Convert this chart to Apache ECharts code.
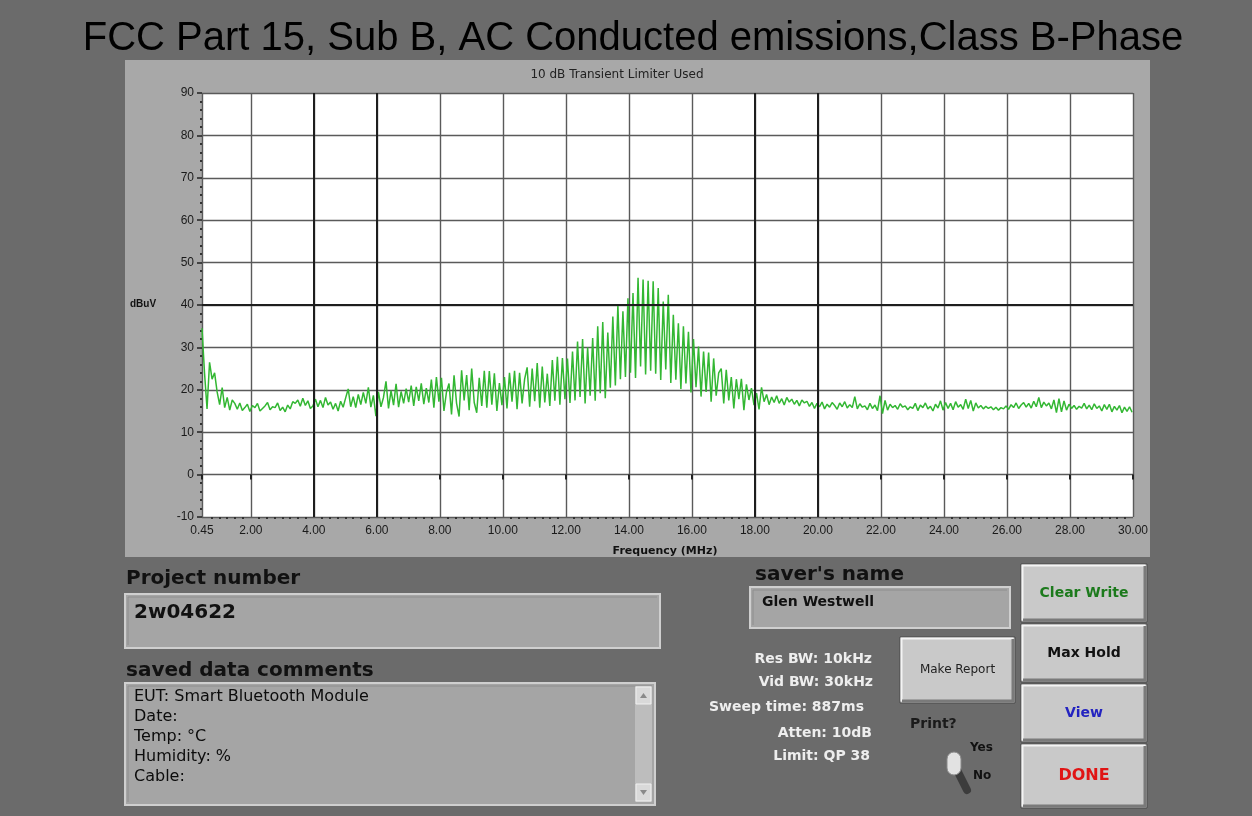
<!DOCTYPE html>
<html>
<head>
<meta charset="utf-8">
<title>FCC Part 15 AC Conducted emissions</title>
<script src="https://cdn.jsdelivr.net/npm/echarts@6/dist/echarts.min.js"></script>
<style>
  html, body { margin: 0; padding: 0; background: #6b6b6b; }
  #chart { width: 1252px; height: 816px; }
</style>
</head>
<body>
<div id="chart"></div>
<script>
// Sweep grid of the analyzer trace (MHz)
const sweepStartMHz = 0.45;
const sweepStepMHz = 0.08;

// Measured level, dBuV, 0.45 – 7.97 MHz
const levelLowBand = [
  34.5, 24.0, 15.5, 26.5, 22.5, 24.0, 19.5, 16.5, 20.5, 15.8,
  18.2, 15.2, 17.6, 16.8, 15.4, 16.9, 15.1, 15.8, 16.6, 14.9,
  16.3, 15.8, 16.8, 15.0, 15.6, 16.2, 17.0, 15.3, 16.0, 15.8,
  16.9, 15.1, 15.9, 14.8, 16.4, 15.5, 17.2, 16.8, 17.6, 16.1,
  18.0, 16.3, 17.4, 15.6, 16.2, 17.8, 16.0, 17.5, 15.8, 18.2,
  16.4, 17.1, 15.4, 16.8, 15.0, 17.3, 15.9, 18.1, 20.2, 16.0,
  18.4, 15.8, 18.9, 16.5, 19.4, 16.8, 20.6, 15.9, 18.7, 13.8,
  19.5, 16.0, 18.2, 22.0, 15.6, 19.8, 16.4, 21.4, 15.9, 19.6,
  16.8, 20.3, 17.1, 21.0, 16.2, 20.7, 17.4, 21.5, 16.6, 20.4,
  17.0, 22.4, 15.8, 23.0, 17.2
];

// Measured level, dBuV, 8.05 – 17.97 MHz (harmonic comb)
const levelMidBand = [
  22.8, 15.0, 19.5, 21.5, 14.2, 23.4, 16.8, 13.7, 24.6, 17.5,
  23.5, 15.2, 25.0, 17.0, 14.6, 22.8, 16.2, 24.5, 15.8, 24.4,
  16.5, 23.9, 15.0, 21.6, 16.4, 23.0, 15.6, 24.0, 17.2, 24.5,
  15.4, 24.0, 16.8, 22.5, 25.3, 16.0, 25.0, 17.3, 26.3, 15.8,
  25.5, 17.0, 23.8, 16.2, 27.0, 17.4, 27.8, 16.5, 27.5, 17.8,
  27.4, 16.9, 29.0, 17.5, 31.4, 18.3, 32.0, 16.8, 30.0, 18.6,
  32.2, 17.4, 35.0, 19.2, 36.0, 18.0, 33.5, 20.5, 37.3, 21.0,
  40.0, 22.5, 38.5, 23.0, 41.6, 24.0, 42.8, 22.8, 46.4, 25.5,
  46.0, 23.6, 45.7, 24.5, 45.6, 23.8, 44.0, 22.3, 40.8, 24.8,
  42.4, 21.6, 37.7, 22.4, 35.7, 20.2, 35.0, 21.5, 33.7, 19.4,
  32.0, 20.6, 30.2, 18.4, 29.0, 19.5, 28.8, 17.2, 27.4, 18.6,
  24.0, 25.0, 16.8, 24.7, 17.5, 23.0, 15.6, 22.5, 17.8, 22.6,
  15.2, 21.3, 17.6, 20.4, 16.4
];

// Measured level, dBuV, 18.05 – 29.97 MHz
const levelHighBand = [
  19.2, 15.4, 20.6, 17.2, 18.9, 16.5, 18.3, 17.0, 18.6, 16.8,
  17.9, 16.4, 18.2, 17.1, 17.8, 16.6, 17.5, 16.2, 17.6, 16.9,
  17.3, 16.1, 17.0, 15.6, 16.8, 16.0, 17.1, 15.5, 16.6, 15.9,
  17.0, 16.3, 15.4, 16.9, 16.0, 17.2, 15.7, 16.5, 15.8, 18.4,
  15.5, 16.7, 15.9, 16.2, 15.3, 16.8, 15.6, 16.4, 15.1, 18.6,
  14.4, 17.5, 15.2, 16.6, 15.8, 16.3, 15.4, 16.7, 15.9, 16.2,
  15.3, 16.0, 15.6, 16.8, 15.1, 16.4, 15.8, 16.9, 15.5, 16.1,
  15.0, 16.6, 15.7, 17.4, 15.2, 17.0, 15.6, 16.8, 15.3, 17.2,
  15.9, 16.5, 15.4, 17.8, 15.6, 17.5, 15.0, 16.9, 15.7, 16.3,
  15.5, 16.1, 15.6, 16.0, 15.3, 15.9, 15.2, 15.8, 15.5, 16.2,
  15.4, 16.5, 15.8, 16.9, 15.6, 16.4, 17.0, 15.9, 16.8, 15.7,
  17.3, 16.0, 18.2, 15.8, 17.1, 16.2, 16.9, 15.5, 17.6, 14.6,
  17.9, 14.8, 17.4, 15.2, 16.6, 15.6, 16.3, 15.4, 16.1, 15.7,
  16.8, 15.5, 16.4, 15.3, 16.7, 15.6, 16.2, 15.0, 16.5, 15.4,
  16.6, 14.8, 16.1, 15.2, 16.3, 14.6, 15.9, 14.9, 16.0, 14.7
];

// Axis ticks
const xTickValues = [0.45, 2, 4, 6, 8, 10, 12, 14, 16, 18, 20, 22, 24, 26, 28, 30];
const yMin = -10, yMax = 90, yStep = 10;

// Panel texts
const titleText = 'FCC Part 15, Sub B, AC Conducted emissions,Class B-Phase';
const subtitleText = '10 dB Transient Limiter Used';
const projectNumber = '2w04622';
const commentLines = ['EUT: Smart Bluetooth Module', 'Date:', 'Temp: °C', 'Humidity: %', 'Cable:'];
const saverName = 'Glen Westwell';
const settingLines = ['Res BW: 10kHz', 'Vid BW: 30kHz', 'Sweep time: 887ms', 'Atten: 10dB', 'Limit: QP 38'];

// ---- build trace points on the sweep grid ----
const trace = [levelLowBand, levelMidBand, levelHighBand].flat()
  .map((v, i) => [Math.round((sweepStartMHz + i * sweepStepMHz) * 100) / 100, v]);

// small dot ticks every 0.25 MHz along the frequency axis
const xMinorTicks = [];
for (let k = 1; k < 120; k++) {
  const f = k * 0.25;
  if (f > 0.5 && f % 2 !== 0) xMinorTicks.push(f);
}

const SANS = '"DejaVu Sans", "Liberation Sans", sans-serif';
const ARIAL = '"Liberation Sans", Arial, sans-serif';

function text(x, y, str, style) {
  return {
    type: 'text', x: x, y: y, silent: true,
    style: Object.assign({
      text: str, fill: '#111', fontSize: 14, fontFamily: SANS,
      textAlign: 'left', textVerticalAlign: 'middle'
    }, style || {})
  };
}

// sunken text field
function field(x, y, w, h) {
  return {
    type: 'group', silent: true,
    children: [
      { type: 'rect', shape: { x: x, y: y, width: w, height: h }, style: { fill: '#a5a5a5', stroke: '#cfcfcf', lineWidth: 2 } },
      { type: 'polyline', shape: { points: [[x + 3, y + h - 3], [x + 3, y + 3], [x + w - 3, y + 3]] }, style: { stroke: '#8e8e8e', lineWidth: 1, fill: null } }
    ]
  };
}

// raised push button
function button(x, y, w, h, label, color, size, weight) {
  return {
    type: 'group', silent: true,
    children: [
      { type: 'rect', shape: { x: x, y: y, width: w, height: h }, style: { fill: '#c9c9c9', stroke: '#4a4a4a', lineWidth: 1 } },
      { type: 'polyline', shape: { points: [[x + 1.5, y + h - 1.5], [x + 1.5, y + 1.5], [x + w - 1.5, y + 1.5]] }, style: { stroke: '#f4f4f4', lineWidth: 2, fill: null } },
      { type: 'polyline', shape: { points: [[x + 2, y + h - 2], [x + w - 2, y + h - 2], [x + w - 2, y + 2]] }, style: { stroke: '#7a7a7a', lineWidth: 3, fill: null } },
      text(x + w / 2, y + h / 2, label, { fill: color, fontSize: size, fontWeight: weight || 'bold', textAlign: 'center' })
    ]
  };
}

const graphics = [
  // light chart frame
  { type: 'rect', z: -10, silent: true, shape: { x: 125, y: 60, width: 1025, height: 497 }, style: { fill: '#a8a8a8' } },
  text(633, 39, titleText, { fontFamily: ARIAL, fontSize: 40, fill: '#000', textAlign: 'center' }),
  text(617, 75, subtitleText, { fontSize: 12, fill: '#222', textAlign: 'center' }),
  text(130, 304, 'dBuV', { fontFamily: ARIAL, fontSize: 10, fontWeight: 'bold', fill: '#111' }),
  text(665, 551, 'Frequency (MHz)', { fontSize: 11, fontWeight: 'bold', fill: '#111', textAlign: 'center' }),

  // project number
  text(126, 579, 'Project number', { fontSize: 20, fontWeight: 'bold' }),
  field(125, 594, 535, 54),
  text(134, 613, projectNumber, { fontSize: 20, fontWeight: 'bold' }),

  // comments
  text(126, 671, 'saved data comments', { fontSize: 20, fontWeight: 'bold' }),
  field(125, 683, 530, 122),
  { type: 'rect', silent: true, shape: { x: 635, y: 686, width: 17, height: 116 }, style: { fill: '#bdbdbd' } },
  { type: 'rect', silent: true, shape: { x: 636, y: 687, width: 15, height: 17 }, style: { fill: '#d9d9d9', stroke: '#f0f0f0', lineWidth: 1 } },
  { type: 'rect', silent: true, shape: { x: 636, y: 784, width: 15, height: 17 }, style: { fill: '#d9d9d9', stroke: '#f0f0f0', lineWidth: 1 } },
  { type: 'polygon', silent: true, shape: { points: [[640, 698], [647, 698], [643.5, 693]] }, style: { fill: '#8a8a8a' } },
  { type: 'polygon', silent: true, shape: { points: [[640, 790], [647, 790], [643.5, 795]] }, style: { fill: '#8a8a8a' } }
].concat(commentLines.map((s, i) => text(134, 697 + i * 20, s, { fontSize: 16, fill: '#0c0c0c' })))
.concat([
  // saver
  text(755, 575, "saver's name", { fontSize: 20, fontWeight: 'bold' }),
  field(750, 587, 260, 41),
  text(762, 602, saverName, { fontSize: 14, fontWeight: 'bold' })
])
.concat(settingLines.map((s, i) => text([872, 873, 864, 872, 870][i], [659, 682, 707, 733, 756][i], s,
  { fontSize: 14, fontWeight: 'bold', fill: '#eeeeee', textAlign: 'right' })))
.concat([
  button(900, 637, 115, 66, 'Make Report', '#222', 12, 'normal'),
  button(1021, 564, 126, 58, 'Clear Write', '#1c7a1c', 14),
  button(1021, 624, 126, 58, 'Max Hold', '#111', 14),
  button(1021, 684, 126, 58, 'View', '#2323c0', 14),
  button(1021, 744, 126, 64, 'DONE', '#e01414', 16),
  text(910, 724, 'Print?', { fontSize: 14, fontWeight: 'bold', fill: '#1a1a1a' }),
  text(970, 748, 'Yes', { fontSize: 12, fontWeight: 'bold', fill: '#111' }),
  text(973, 776, 'No', { fontSize: 12, fontWeight: 'bold', fill: '#111' }),
  // toggle switch
  { type: 'line', silent: true, shape: { x1: 955, y1: 766, x2: 967, y2: 790 }, style: { stroke: '#3c3c3c', lineWidth: 8, lineCap: 'round' } },
  { type: 'rect', silent: true, shape: { x: 947, y: 752, width: 14, height: 23, r: 7 }, style: { fill: '#e2e2e2', stroke: '#8a8a8a', lineWidth: 1 } }
]);

const chart = echarts.init(document.getElementById('chart'));
chart.setOption({
  backgroundColor: '#6b6b6b',
  animation: false,
  graphic: graphics,
  grid: {
    left: 202, top: 93, width: 931, height: 424,
    show: true, backgroundColor: '#ffffff', borderWidth: 0
  },
  xAxis: [{
    type: 'value', min: 0.45, max: 30,
    axisLine: { show: false },
    axisTick: { show: true, customValues: xTickValues, length: 5, lineStyle: { color: '#222', width: 2 } },
    axisLabel: {
      customValues: xTickValues, margin: 8,
      formatter: v => v.toFixed(2),
      color: '#1a1a1a', fontSize: 12, fontFamily: ARIAL
    },
    splitLine: { show: true, lineStyle: { color: '#5a5a5a', width: 1.4 } }
  }, {
    type: 'value', min: 0.45, max: 30, position: 'bottom',
    axisLine: { show: false }, axisLabel: { show: false }, splitLine: { show: false },
    axisTick: { show: true, customValues: xMinorTicks, length: 2, lineStyle: { color: '#333', width: 2 } }
  }],
  yAxis: {
    type: 'value', min: yMin, max: yMax, interval: yStep,
    axisLine: { show: false },
    axisTick: { show: true, length: 5, lineStyle: { color: '#222', width: 1.5 } },
    minorTick: { show: true, splitNumber: 5, length: 2, lineStyle: { color: '#333', width: 2 } },
    axisLabel: { color: '#1a1a1a', fontSize: 12, fontFamily: ARIAL, margin: 8 },
    splitLine: { show: true, lineStyle: { color: '#5a5a5a', width: 1.4 } }
  },
  series: [{
    // heavier reference grid lines
    type: 'line', data: [], z: 1, silent: true,
    markLine: {
      silent: true, symbol: 'none', animation: false,
      label: { show: false },
      lineStyle: { color: '#1e1e1e', width: 2, type: 'solid' },
      data: [{ xAxis: 4 }, { xAxis: 6 }, { xAxis: 18 }, { xAxis: 20 }, { yAxis: 40 }]
    }
  }, {
    name: 'Level', type: 'line', data: trace, z: 3,
    showSymbol: false, symbol: 'none',
    lineStyle: { color: '#33b733', width: 1.5 }
  }]
});
</script>
</body>
</html>
